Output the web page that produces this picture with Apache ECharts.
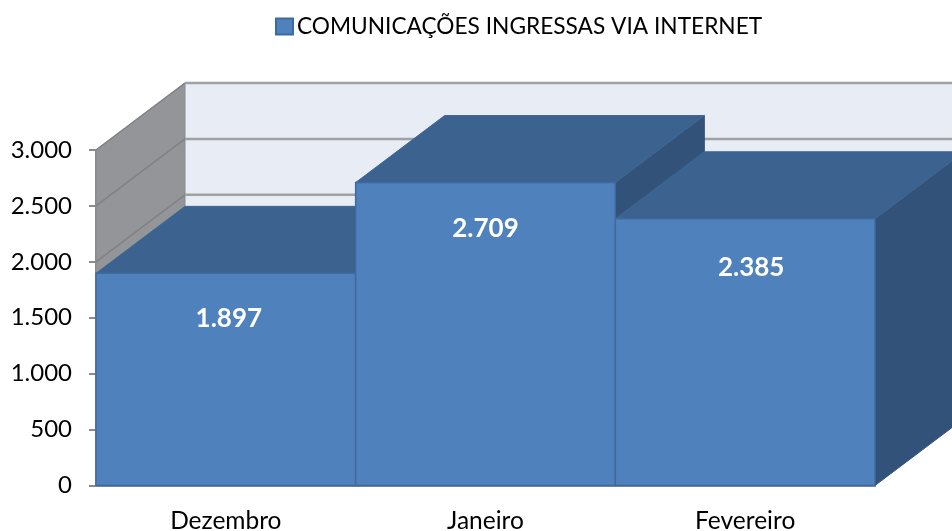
<!DOCTYPE html>
<html>
<head>
<meta charset="utf-8">
<style>
  html, body { margin: 0; padding: 0; background: #fff; }
  #graph { width: 952px; height: 531px; }
</style>
<script src="https://cdn.jsdelivr.net/npm/echarts@6/dist/echarts.min.js"></script>
</head>
<body>
<div id="graph"></div>
<script>
const seriesName = 'COMUNICAÇÕES INGRESSAS VIA INTERNET';
const categories = ['Dezembro', 'Janeiro', 'Fevereiro'];
const values = [1897, 2709, 2385];
const yTicks = [0, 500, 1000, 1500, 2000, 2500, 3000];

const FONT = 'Lato, "Open Sans", sans-serif';
// how far the 3d depth goes, in pixels
const DX = 89;
const DY = -67;
// small nudges so the labels sit where they are in the picture
const LABEL_SHIFT = [[3, 45], [0, 46], [6, 49]];

const fmt = (v) => String(v).replace(/\B(?=(\d{3})+$)/g, '.');

const poly = (points, fill, stroke) => ({
  type: 'polygon',
  shape: { points: points },
  style: { fill: fill, stroke: stroke || fill, lineWidth: 1 },
});

const line = (x1, y1, x2, y2, color, width) => ({
  type: 'line',
  shape: { x1: x1, y1: y1, x2: x2, y2: y2 },
  style: { stroke: color, lineWidth: width },
});

// side wall, back wall and their gridlines
const renderWall = (params, api) => {
  const v = api.value(0);
  const y = api.coord([0, v])[1];
  const x0 = params.coordSys.x;
  const xEnd = x0 + params.coordSys.width;
  const children = [];
  if (params.dataIndex === 0) {
    const top = api.coord([0, yTicks[yTicks.length - 1]])[1];
    children.push(poly([[x0 + DX, top + DY], [xEnd + DX, top + DY], [xEnd + DX, y + DY], [x0 + DX, y + DY]], '#E8ECF5', '#E8ECF5'));
    children.push(poly([[x0, top], [x0 + DX, top + DY], [x0 + DX, y + DY], [x0, y]], '#939598', '#8A8A8C'));
  }
  children.push(line(x0, y, x0 + DX, y + DY, '#808183', 1.5));
  children.push(line(x0 + DX, y + DY, xEnd + DX, y + DY, '#A0A1A4', 2.5));
  return { type: 'group', children: children };
};

const renderBar = (params, api) => {
  const i = api.value(0);
  const v = api.value(1);
  const w = api.size([1, 0])[0];
  const center = api.coord([i, 0]);
  const topCenter = api.coord([i, v]);
  const l = center[0] - w / 2;
  const r = center[0] + w / 2;
  const b = center[1];
  const t = topCenter[1];
  const shift = LABEL_SHIFT[params.dataIndex];
  return {
    type: 'group',
    children: [
      poly([[r, t], [r + DX, t + DY], [r + DX, b + DY], [r, b]], '#325279', '#325279'),
      poly([[l, t], [r, t], [r + DX, t + DY], [l + DX, t + DY]], '#3C6290', '#3F6795'),
      {
        type: 'rect',
        shape: { x: l, y: t, width: w, height: b - t },
        style: { fill: '#4F81BD', stroke: '#3F6A9E', lineWidth: 1.5 },
      },
      {
        type: 'text',
        style: {
          text: fmt(v),
          x: center[0] + shift[0],
          y: t + shift[1],
          fill: '#fff',
          font: 'bold 26px ' + FONT,
          align: 'center',
          verticalAlign: 'middle',
        },
      },
    ],
  };
};

const myChart = echarts.init(document.getElementById('graph'), null, { renderer: 'canvas' });

myChart.setOption({
  animation: false,
  backgroundColor: '#fff',
  legend: {
    data: [{ name: seriesName, icon: 'rect' }],
    left: 270,
    top: 10,
    itemWidth: 17,
    itemHeight: 16,
    textStyle: { fontFamily: FONT, fontSize: 22.7, color: '#000', padding: [0, 0, 0, -1] },
  },
  grid: { left: 96, top: 150, width: 779, height: 335.5, outerBoundsMode: 'none' },
  xAxis: {
    type: 'category',
    data: categories,
    axisTick: { show: false },
    axisLine: { lineStyle: { color: '#8A8A8C', width: 2 } },
    axisLabel: { fontFamily: FONT, fontSize: 24.5, color: '#000', margin: 23 },
  },
  yAxis: {
    type: 'value',
    min: 0,
    max: 3000,
    interval: 500,
    splitLine: { show: false },
    axisLine: { show: true, lineStyle: { color: '#8A8A8C', width: 2 } },
    axisTick: { show: true, length: 7, lineStyle: { color: '#8A8A8C', width: 2 } },
    axisLabel: { fontFamily: FONT, fontSize: 24, color: '#000', margin: 24, padding: [5, 0, 0, 0], formatter: fmt },
  },
  series: [
    {
      name: 'wall',
      type: 'custom',
      renderItem: renderWall,
      data: yTicks.map((v) => [v]),
      encode: { y: 0 },
      silent: true,
      z: 1,
    },
    {
      name: seriesName,
      type: 'custom',
      renderItem: renderBar,
      data: values.map((v, i) => [i, v]),
      encode: { x: 0, y: 1 },
      itemStyle: { color: '#4F81BD', borderColor: '#3F6A9E', borderWidth: 1.5 },
      z: 2,
    },
  ],
});
</script>
</body>
</html>
